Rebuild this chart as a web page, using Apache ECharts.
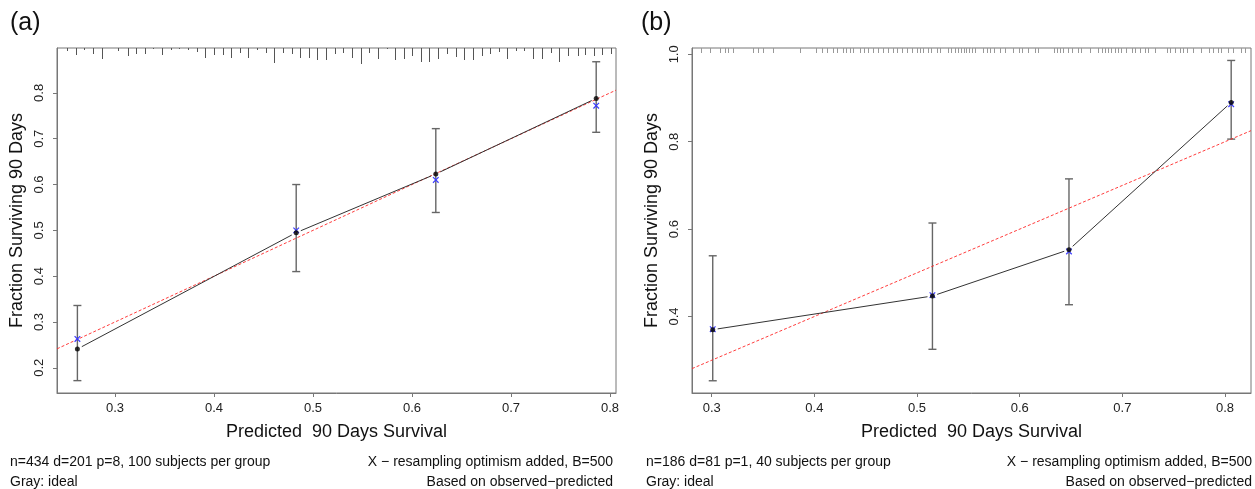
<!DOCTYPE html>
<html>
<head>
<meta charset="utf-8">
<script src="https://cdn.jsdelivr.net/npm/echarts@6/dist/echarts.min.js"></script>
<style>
html,body{margin:0;padding:0;background:#fff;}
#c{width:1255px;height:489px;}
</style>
</head>
<body>
<div id="c"></div>
<script>
// ---------- Panel (a) data ----------
const predA = [0.262, 0.483, 0.624, 0.786];
const obsA  = [0.241, 0.495, 0.623, 0.788];
const corA  = [0.263, 0.500, 0.610, 0.772];
const lowA  = [0.172, 0.410, 0.539, 0.714];
const highA = [0.336, 0.600, 0.722, 0.868];
const xTicksA = [0.3, 0.4, 0.5, 0.6, 0.7, 0.8];
const yTicksA = [0.2, 0.3, 0.4, 0.5, 0.6, 0.7, 0.8];
const xRangeA = [0.2414, 0.806];
const yRangeA = [0.145, 0.898];
const rugAx = [0.2512,0.2606,0.2687,0.2775,0.2866,0.3033,0.3128,0.3212,0.3303,0.3387,0.3478,0.3563,0.3649,0.3740,0.3825,0.3909,0.4000,0.4088,0.4172,0.4263,0.4347,0.4437,0.4522,0.4606,0.4700,0.4785,0.4869,0.4956,0.5043,0.5131,0.5222,0.5306,0.5391,0.5482,0.5566,0.5653,0.5744,0.5828,0.5919,0.6003,0.6088,0.6175,0.6260,0.6351,0.6442,0.6525,0.6613,0.6704,0.6788,0.6875,0.6963,0.7050,0.7134,0.7225,0.7313,0.7400,0.7487,0.7573,0.7674,0.7747,0.7838,0.7919,0.8007];
const rugAf = [3,7,2,6,11,3,8,6,6,1,7,2,1,2,4,10,7,7,10,5,10,2,5,15,5,6,10,10,12,12,6,5,10,16,5,11,1,12,11,8,14,14,11,6,9,12,12,8,6,4,11,3,3,11,11,5,14,8,8,7,8,7,6];
const footA = ["n=434 d=201 p=8, 100 subjects per group", "Gray: ideal",
               "X \u2212 resampling optimism added, B=500", "Based on observed\u2212predicted"];

// ---------- Panel (b) data ----------
const predB = [0.301, 0.515, 0.648, 0.806];
const obsB  = [0.370, 0.447, 0.553, 0.890];
const corB  = [0.371, 0.449, 0.549, 0.886];
const lowB  = [0.253, 0.325, 0.427, 0.806];
const highB = [0.539, 0.614, 0.715, 0.986];
const xTicksB = [0.3, 0.4, 0.5, 0.6, 0.7, 0.8];
const yTicksB = [0.4, 0.6, 0.8, 1.0];
const xRangeB = [0.2808, 0.8253];
const yRangeB = [0.225, 1.0145];
const rugBx = [0.290,0.298,0.308,0.313,0.316,0.321,0.340,0.345,0.350,0.360,0.386,0.402,0.407,0.412,0.418,0.422,0.428,0.431,0.435,0.438,0.444,0.448,0.452,0.457,0.462,0.467,0.472,0.477,0.480,0.485,0.490,0.495,0.500,0.503,0.506,0.511,0.514,0.519,0.522,0.530,0.533,0.537,0.540,0.543,0.546,0.548,0.551,0.554,0.556,0.564,0.568,0.571,0.575,0.581,0.586,0.593,0.599,0.602,0.608,0.615,0.618,0.633,0.636,0.639,0.642,0.647,0.651,0.657,0.660,0.668,0.676,0.680,0.683,0.686,0.689,0.693,0.696,0.699,0.704,0.709,0.712,0.717,0.722,0.725,0.732,0.743,0.746,0.751,0.756,0.759,0.763,0.769,0.777,0.784,0.788,0.793,0.796,0.803,0.808,0.816,0.819];
const footB = ["n=186 d=81 p=1, 40 subjects per group", "Gray: ideal",
               "X \u2212 resampling optimism added, B=500", "Based on observed\u2212predicted"];

const xTitle = "Predicted  90 Days Survival";
const yTitle = "Fraction Surviving 90 Days";
const panelLabels = ["(a)", "(b)"];

// ---------- build ----------
const FONT = "'Liberation Sans', Arial, Helvetica, sans-serif";
const AXC = '#777';
const grids = [
  {left: 57, top: 48, width: 559, height: 345},
  {left: 692, top: 48, width: 559, height: 345}
];

function xAxisCfg(idx, range, ticks) {
  return {
    type: 'value', gridIndex: idx, min: range[0], max: range[1],
    name: xTitle, nameLocation: 'middle', nameGap: 30,
    nameTextStyle: {fontSize: 18, color: '#111', fontFamily: FONT},
    axisLine: {show: true, lineStyle: {color: AXC, width: 1}},
    axisTick: {show: true, length: 4, lineStyle: {color: AXC}, customValues: ticks},
    axisLabel: {fontSize: 13, color: '#222', fontFamily: FONT, margin: 9,
      customValues: ticks, formatter: v => v.toFixed(1)},
    splitLine: {show: false}
  };
}
function yAxisCfg(idx, range, ticks) {
  return {
    type: 'value', gridIndex: idx, min: range[0], max: range[1],
    name: yTitle, nameLocation: 'middle', nameGap: 31,
    nameTextStyle: {fontSize: 18, color: '#111', fontFamily: FONT},
    axisLine: {show: true, lineStyle: {color: AXC, width: 1}},
    axisTick: {show: true, length: 4, lineStyle: {color: AXC}, customValues: ticks},
    axisLabel: {fontSize: 13, color: '#222', fontFamily: FONT, margin: 11, rotate: 90,
      customValues: ticks, formatter: v => v.toFixed(1)},
    splitLine: {show: false}
  };
}

function panelSeries(idx, pred, obs, cor, low, high, xr, yr, rugX, rugF, rugColor) {
  const s = [];
  // rug at top
  s.push({
    type: 'custom', xAxisIndex: idx, yAxisIndex: idx, silent: true, clip: false,
    data: rugX.map((x, i) => [x, rugF ? rugF[i] : 5]),
    renderItem: (params, api) => {
      const top = api.coord([api.value(0), yr[1]]);
      const x = Math.round(top[0]) + 0.5;
      const len = api.value(1);
      return {type: 'line', shape: {x1: x, y1: top[1], x2: x, y2: top[1] + len},
        style: {stroke: rugColor, lineWidth: 1}};
    }
  });
  // error bars
  s.push({
    type: 'custom', xAxisIndex: idx, yAxisIndex: idx, silent: true,
    data: pred.map((x, i) => [x, low[i], high[i]]),
    renderItem: (params, api) => {
      const a = api.coord([api.value(0), api.value(2)]);
      const b = api.coord([api.value(0), api.value(1)]);
      const w = 4;
      const st = {stroke: '#666', lineWidth: 1.4};
      return {type: 'group', children: [
        {type: 'line', shape: {x1: a[0], y1: a[1], x2: b[0], y2: b[1]}, style: st},
        {type: 'line', shape: {x1: a[0] - w, y1: a[1], x2: a[0] + w, y2: a[1]}, style: st},
        {type: 'line', shape: {x1: b[0] - w, y1: b[1], x2: b[0] + w, y2: b[1]}, style: st}
      ]};
    }
  });
  // ideal line
  s.push({
    type: 'line', xAxisIndex: idx, yAxisIndex: idx, silent: true, symbol: 'none',
    data: [[xr[0], xr[0]], [xr[1], xr[1]]],
    lineStyle: {color: 'rgba(255,40,40,0.9)', width: 1, type: [3, 2]}, z: 3
  });
  // observed line with gaps (type "b")
  s.push({
    type: 'custom', xAxisIndex: idx, yAxisIndex: idx, silent: true,
    data: pred.slice(0, -1).map((x, i) => [x, obs[i], pred[i + 1], obs[i + 1]]),
    renderItem: (params, api) => {
      const p = api.coord([api.value(0), api.value(1)]);
      const q = api.coord([api.value(2), api.value(3)]);
      const dx = q[0] - p[0], dy = q[1] - p[1];
      const L = Math.sqrt(dx * dx + dy * dy), g = 5;
      const ux = dx / L, uy = dy / L;
      return {type: 'line', shape: {x1: p[0] + ux * g, y1: p[1] + uy * g, x2: q[0] - ux * g, y2: q[1] - uy * g},
        style: {stroke: '#333', lineWidth: 1}};
    }, z: 4
  });
  // corrected X marks
  s.push({
    type: 'custom', xAxisIndex: idx, yAxisIndex: idx, silent: true,
    data: pred.map((x, i) => [x, cor[i]]),
    renderItem: (params, api) => {
      const c = api.coord([api.value(0), api.value(1)]);
      const r = 2.8;
      const st = {stroke: '#3b3bff', lineWidth: 1.2};
      return {type: 'group', children: [
        {type: 'line', shape: {x1: c[0] - r, y1: c[1] - r, x2: c[0] + r, y2: c[1] + r}, style: st},
        {type: 'line', shape: {x1: c[0] - r, y1: c[1] + r, x2: c[0] + r, y2: c[1] - r}, style: st}
      ]};
    }, z: 5
  });
  // observed dots
  s.push({
    type: 'scatter', xAxisIndex: idx, yAxisIndex: idx, silent: true,
    data: pred.map((x, i) => [x, obs[i]]),
    symbol: 'circle', symbolSize: 5, itemStyle: {color: '#000'}, z: 6
  });
  return s;
}

function footGraphics(left, right, lines) {
  const st = {fontSize: 14, fill: '#111', fontFamily: FONT};
  return [
    {type: 'text', left: left, top: 455, style: Object.assign({text: lines[0]}, st)},
    {type: 'text', left: left, top: 475, style: Object.assign({text: lines[1]}, st)},
    {type: 'text', right: right, top: 455, style: Object.assign({text: lines[2]}, st)},
    {type: 'text', right: right, top: 475, style: Object.assign({text: lines[3]}, st)}
  ];
}

const chart = echarts.init(document.getElementById('c'), null, {renderer: 'canvas'});
chart.setOption({
  animation: false,
  backgroundColor: '#fff',
  grid: grids.map(g => Object.assign({show: true, borderColor: AXC, borderWidth: 1, backgroundColor: 'transparent'}, g)),
  xAxis: [xAxisCfg(0, xRangeA, xTicksA), xAxisCfg(1, xRangeB, xTicksB)],
  yAxis: [yAxisCfg(0, yRangeA, yTicksA), yAxisCfg(1, yRangeB, yTicksB)],
  series: [].concat(
    panelSeries(0, predA, obsA, corA, lowA, highA, xRangeA, yRangeA, rugAx, rugAf, '#555'),
    panelSeries(1, predB, obsB, corB, lowB, highB, xRangeB, yRangeB, rugBx, null, '#999')
  ),
  graphic: [
    {type: 'text', left: 10, top: 11, style: {text: panelLabels[0], fontSize: 25, fill: '#111', fontFamily: FONT}},
    {type: 'text', left: 641, top: 11, style: {text: panelLabels[1], fontSize: 25, fill: '#111', fontFamily: FONT}}
  ].concat(footGraphics(10, 1255 - 613, footA), footGraphics(646, 3, footB))
});
</script>
</body>
</html>
